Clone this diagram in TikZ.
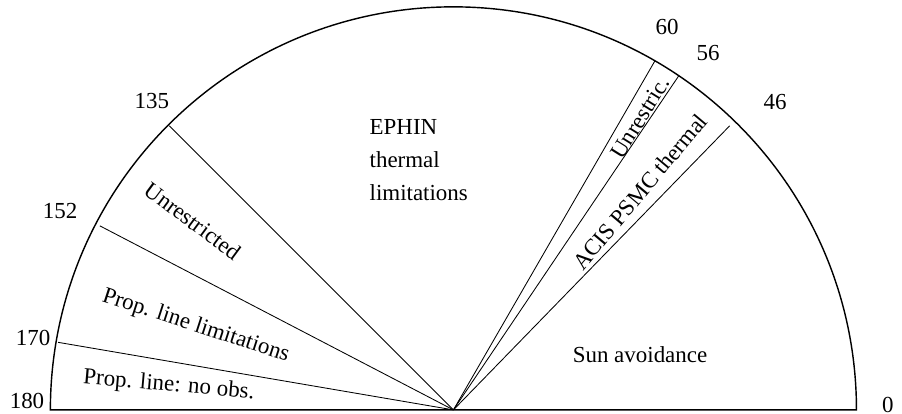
\documentclass[tikz,border=0pt]{standalone}
\usepackage{fontspec}
\setmainfont{Liberation Serif}
\usetikzlibrary{calc}

\begin{document}
\begin{tikzpicture}[font=\fontsize{16.2}{23.3}\selectfont,
  ray/.style={line width=0.6pt},
  rim/.style={line width=1pt}]
  \useasboundingbox (-11.25,-0.10) rectangle (11.13,10.17);
  \coordinate (O) at (0,0);
  \coordinate (E) at (0:10);
  % Semicircle
  \draw[rim, line join=miter] (E) arc (0:180:10) -- cycle;
  %
  % Sector borders
  \coordinate (r170) at (170.3:9.95);
  \coordinate (r152) at (152.5:9.89);
  \coordinate (r135) at (135:9.97);
  \coordinate (r60) at (60:10);
  \coordinate (r56) at (56:10);
  \coordinate (r46) at (45.8:9.83);
  \draw[ray] (O) -- (r170);
  \draw[ray] (O) -- (r152);
  \draw[ray] (O) -- (r135);
  \draw[ray] (O) -- (r60);
  \draw[ray] (O) -- (r56);
  \draw[ray] (O) -- (r46);
  %
  % Angle labels
  \node (a180) at (-10.58, 0.22) {180};
  \node (a170) at (-10.43, 1.79) {170};
  \node (a152) at (-9.76, 4.94) {152};
  \node (a135) at (-7.48, 7.67) {135};
  \node (a60) at (5.30, 9.50) {60};
  \node (a56) at (6.32, 8.86) {56};
  \node (a46) at (7.98, 7.64) {46};
  \node (a0) at (10.78, 0.12) {0};
  %
  % Region names
  \node[rotate=-5] (noobs) at (-7.06, 0.60) {Prop. line: no obs.};
  \node[rotate=-18] (proplim) at (-6.39, 2.08) {Prop. line limitations};
  \node[rotate=-36.5] (unres) at (-6.46, 4.69) {Unrestricted};
  \node[align=left] (ephin) at (-0.86, 6.20) {EPHIN\\thermal\\limitations};
  \node[rotate=58] (unresshort) at (4.63, 7.25) {Unrestric.};
  \node[rotate=50] (acis) at (4.63, 5.41) {ACIS PSMC thermal};
  \node (sun) at (4.63, 1.36) {Sun avoidance};
\end{tikzpicture}
\end{document}
